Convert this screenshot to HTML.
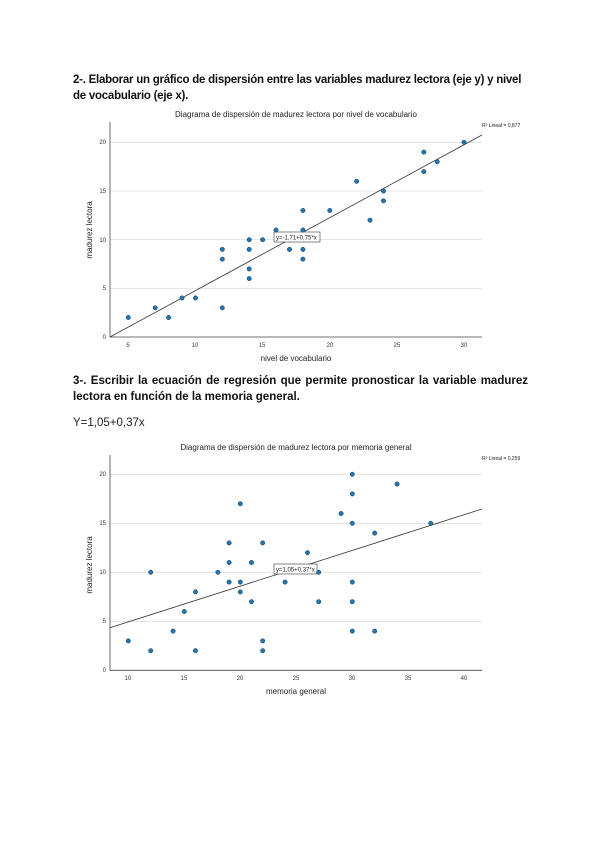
<!DOCTYPE html>
<html><head><meta charset="utf-8"><style>
body{margin:0;background:#fff;width:600px;height:848px;overflow:hidden;font-family:"Liberation Sans",sans-serif}
.h{position:absolute;left:73px;font-size:11.5px;font-weight:bold;color:#111;width:455px;line-height:16px}
svg{position:absolute;left:0;top:0}
</style></head><body>
<div class="h" style="top:72px;white-space:nowrap;letter-spacing:-0.25px;width:auto">2-. Elaborar un gráfico de dispersión entre las variables madurez lectora (eje y) y nivel<br>de vocabulario (eje x).</div>
<div class="h" style="top:373px;text-align:justify">3-. Escribir la ecuación de regresión que permite pronosticar la variable madurez lectora en función de la memoria general.</div>
<div style="position:absolute;left:73px;top:417px;font-size:11.5px;color:#222">Y=1,05+0,37x</div>
<svg width="600" height="848" font-family="Liberation Sans, sans-serif">
<g id="c1">
<text x="296" y="117" font-size="8" text-anchor="middle" fill="#222">Diagrama de dispersión de madurez lectora por nivel de vocabulario</text>
<text x="482" y="127" font-size="5" fill="#222">R² Lineal = 0,877</text>
<g stroke="#ddd" stroke-width="0.8"><line x1="110" x2="482" y1="142.3" y2="142.3"/><line x1="110" x2="482" y1="191" y2="191"/><line x1="110" x2="482" y1="239.6" y2="239.6"/><line x1="110" x2="482" y1="288.3" y2="288.3"/></g>
<path d="M110 122V337H482" fill="none" stroke="#444" stroke-width="0.8"/>
<g font-size="6" fill="#333" text-anchor="end"><text x="106" y="339">0</text><text x="106" y="290">5</text><text x="106" y="242">10</text><text x="106" y="193">15</text><text x="106" y="144">20</text></g>
<g font-size="6" fill="#333" text-anchor="middle"><text x="128" y="347">5</text><text x="195" y="347">10</text><text x="262" y="347">15</text><text x="330" y="347">20</text><text x="397" y="347">25</text><text x="464" y="347">30</text></g>
<text x="296" y="361" font-size="8" text-anchor="middle" fill="#222">nivel de vocabulario</text>
<text transform="translate(92,230) rotate(-90)" font-size="8" text-anchor="middle" fill="#222">madurez lectora</text>
<line x1="110" y1="337" x2="482" y2="135" stroke="#333" stroke-width="0.8"/>
<rect x="274" y="232" width="46" height="10" fill="#fff" stroke="#333" stroke-width="0.6"/>
<text x="276" y="239.5" font-size="6" fill="#222">y=-1,71+0,75*x</text>
</g>
<g id="c2">
<text x="296" y="450" font-size="8" text-anchor="middle" fill="#222">Diagrama de dispersión de madurez lectora por memoria general</text>
<text x="482" y="460" font-size="5" fill="#222">R² Lineal = 0,259</text>
<g stroke="#ddd" stroke-width="0.8"><line x1="110" x2="482" y1="474.3" y2="474.3"/><line x1="110" x2="482" y1="523.3" y2="523.3"/><line x1="110" x2="482" y1="572.3" y2="572.3"/><line x1="110" x2="482" y1="621.3" y2="621.3"/></g>
<path d="M110 455V670.3H482" fill="none" stroke="#444" stroke-width="0.8"/>
<g font-size="6" fill="#333" text-anchor="end"><text x="106" y="672">0</text><text x="106" y="623">5</text><text x="106" y="574">10</text><text x="106" y="525">15</text><text x="106" y="476">20</text></g>
<g font-size="6" fill="#333" text-anchor="middle"><text x="128" y="680">10</text><text x="184" y="680">15</text><text x="240" y="680">20</text><text x="296" y="680">25</text><text x="352" y="680">30</text><text x="408" y="680">35</text><text x="464" y="680">40</text></g>
<text x="296" y="694" font-size="8" text-anchor="middle" fill="#222">memoria general</text>
<text transform="translate(92,565) rotate(-90)" font-size="8" text-anchor="middle" fill="#222">madurez lectora</text>
<line x1="110" y1="627.7" x2="482" y2="509" stroke="#333" stroke-width="0.8"/>
<rect x="274" y="564" width="43" height="10" fill="#fff" stroke="#333" stroke-width="0.6"/>
<text x="276" y="571.5" font-size="6" fill="#222">y=1,05+0,37*x</text>
</g>
<g fill="#1f77b4" stroke="#1a3550" stroke-width="0.5">
<circle cx="128.3" cy="317.5" r="2.2"/><circle cx="155.2" cy="307.8" r="2.2"/><circle cx="168.6" cy="317.5" r="2.2"/><circle cx="182" cy="298" r="2.2"/><circle cx="195.5" cy="298" r="2.2"/>
<circle cx="222.3" cy="249.4" r="2.2"/><circle cx="222.3" cy="259.2" r="2.2"/><circle cx="222.3" cy="307.8" r="2.2"/>
<circle cx="249.2" cy="239.7" r="2.2"/><circle cx="249.2" cy="249.4" r="2.2"/><circle cx="249.2" cy="268.9" r="2.2"/><circle cx="249.2" cy="278.6" r="2.2"/>
<circle cx="262.6" cy="239.7" r="2.2"/><circle cx="276" cy="230" r="2.2"/><circle cx="289.5" cy="249.4" r="2.2"/>
<circle cx="302.9" cy="210.5" r="2.2"/><circle cx="302.9" cy="230" r="2.2"/><circle cx="302.9" cy="249.4" r="2.2"/><circle cx="302.9" cy="259.2" r="2.2"/>
<circle cx="329.8" cy="210.5" r="2.2"/><circle cx="356.6" cy="181.3" r="2.2"/><circle cx="370" cy="220.2" r="2.2"/>
<circle cx="383.5" cy="191" r="2.2"/><circle cx="383.5" cy="200.8" r="2.2"/><circle cx="423.8" cy="152.1" r="2.2"/><circle cx="423.8" cy="171.6" r="2.2"/><circle cx="437.2" cy="161.8" r="2.2"/><circle cx="464" cy="142.3" r="2.2"/>
</g>
<g fill="#1f77b4" stroke="#1a3550" stroke-width="0.5">
<circle cx="128.3" cy="640.9" r="2.2"/><circle cx="150.7" cy="650.7" r="2.2"/><circle cx="150.7" cy="572.3" r="2.2"/><circle cx="173.1" cy="631.1" r="2.2"/><circle cx="184.3" cy="611.5" r="2.2"/>
<circle cx="195.5" cy="591.9" r="2.2"/><circle cx="195.5" cy="650.7" r="2.2"/><circle cx="217.9" cy="572.3" r="2.2"/>
<circle cx="229.1" cy="542.9" r="2.2"/><circle cx="229.1" cy="562.5" r="2.2"/><circle cx="229.1" cy="582.1" r="2.2"/>
<circle cx="240.3" cy="503.7" r="2.2"/><circle cx="240.3" cy="582.1" r="2.2"/><circle cx="240.3" cy="591.9" r="2.2"/>
<circle cx="251.5" cy="562.5" r="2.2"/><circle cx="251.5" cy="601.7" r="2.2"/>
<circle cx="262.7" cy="542.9" r="2.2"/><circle cx="262.7" cy="640.9" r="2.2"/><circle cx="262.7" cy="650.7" r="2.2"/>
<circle cx="285.1" cy="582.1" r="2.2"/><circle cx="307.5" cy="552.7" r="2.2"/><circle cx="318.7" cy="572.3" r="2.2"/><circle cx="318.7" cy="601.7" r="2.2"/>
<circle cx="341.1" cy="513.5" r="2.2"/><circle cx="352.3" cy="474.3" r="2.2"/><circle cx="352.3" cy="493.9" r="2.2"/><circle cx="352.3" cy="523.3" r="2.2"/><circle cx="352.3" cy="582.1" r="2.2"/><circle cx="352.3" cy="601.7" r="2.2"/><circle cx="352.3" cy="631.1" r="2.2"/>
<circle cx="374.7" cy="533.1" r="2.2"/><circle cx="374.7" cy="631.1" r="2.2"/><circle cx="397.1" cy="484.1" r="2.2"/><circle cx="430.7" cy="523.3" r="2.2"/>
</g>
</svg>
</body></html>
